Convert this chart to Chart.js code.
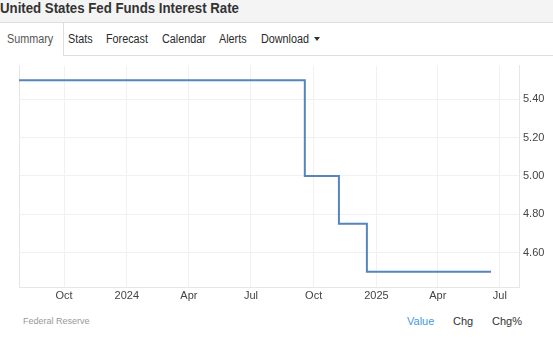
<!DOCTYPE html>
<html>
<head>
<meta charset="utf-8">
<script src="https://cdn.jsdelivr.net/npm/chart.js@4/dist/chart.umd.min.js"></script>
<style>
  html, body { margin: 0; padding: 0; background: #fff; }
  body { width: 553px; height: 343px; position: relative; overflow: hidden;
         font-family: "Liberation Sans", Arial, Helvetica, sans-serif; }
  .topband { position: absolute; left: 0; top: 0; width: 553px; height: 22px; background: #f4f4f4; }
  .title { position: absolute; left: 0; top: 1px; font-size: 14px; line-height: 14px; font-weight: bold;
           color: #333; white-space: nowrap; transform: scaleX(0.945); transform-origin: left top; }
  .tabbar { position: absolute; left: 0; top: 22px; width: 553px; height: 33px; background: #fff;
            border-top: 1px solid #dedede; box-sizing: border-box; }
  .tabline { position: absolute; left: 63px; top: 55px; width: 490px; height: 1px; background: #dedede; }
  .tabedge { position: absolute; left: 63px; top: 22px; width: 1px; height: 34px; background: #dedede; }
  .tab { position: absolute; top: 33px; font-size: 12px; line-height: 12px; color: #2a2a2a; white-space: nowrap;
         transform: scaleX(0.9); transform-origin: left top; }
  .tab.active { color: #555; }
  .caret { position: absolute; left: 314px; top: 37px; width: 0; height: 0;
           border-left: 3.5px solid transparent; border-right: 3.5px solid transparent; border-top: 4px solid #333; }
  #wrap { position: absolute; left: 0; top: 55px; width: 553px; height: 250px; }
  .src { position: absolute; left: 23px; top: 317px; font-size: 9px; line-height: 9px; color: #999; white-space: nowrap; }
  .opt { position: absolute; top: 316px; font-size: 11px; line-height: 11px; color: #333; white-space: nowrap; }
  .opt.on { color: #3f9ae0; }
</style>
</head>
<body>
<div class="topband"></div>
<div class="title">United States Fed Funds Interest Rate</div>
<div class="tabbar"></div>
<div class="tabline"></div>
<div class="tabedge"></div>
<div class="tab active" style="left:7px">Summary</div>
<div class="tab" style="left:68px">Stats</div>
<div class="tab" style="left:106px">Forecast</div>
<div class="tab" style="left:162px">Calendar</div>
<div class="tab" style="left:219px">Alerts</div>
<div class="tab" style="left:261px">Download</div>
<div class="caret"></div>

<div id="wrap"><canvas id="c" width="553" height="250"></canvas></div>

<div class="src">Federal Reserve</div>
<div class="opt on" style="left:407px">Value</div>
<div class="opt" style="left:453px">Chg</div>
<div class="opt" style="left:492px">Chg%</div>

<script>
// Fed funds target (upper bound), one point per FOMC decision date
const decisionDates = ['2023-07-27','2023-09-20','2023-11-01','2023-12-13','2024-01-31','2024-03-20',
                       '2024-05-01','2024-06-12','2024-07-31','2024-09-18','2024-11-07','2024-12-18',
                       '2025-01-29','2025-03-19','2025-05-07','2025-06-18'];
const rates = [5.50, 5.50, 5.50, 5.50, 5.50, 5.50,
               5.50, 5.50, 5.50, 5.00, 4.75, 4.50,
               4.50, 4.50, 4.50, 4.50];

// Axis range and tick marks
const rangeStart = '2023-07-27';
const rangeEnd = '2025-07-29';
const xTickDates = ['2023-10-01','2024-01-01','2024-04-01','2024-07-01','2024-10-01','2025-01-01','2025-04-01','2025-07-01'];
const xTickLabels = ['Oct','2024','Apr','Jul','Oct','2025','Apr','Jul'];
const yTicks = [4.60, 4.80, 5.00, 5.20, 5.40];
const yMin = 4.42, yMax = 5.576;

const dayOf = s => Date.parse(s + 'T00:00:00Z') / 86400000;

const points = decisionDates.map((d, i) => ({ x: dayOf(d), y: rates[i] }));

// thin frame line on the left edge of the plot area
const frameLeft = {
  id: 'frameLeft',
  beforeDatasetsDraw(chart) {
    const { ctx, chartArea: a } = chart;
    ctx.save();
    ctx.strokeStyle = '#e6e6e6';
    ctx.lineWidth = 1;
    ctx.beginPath();
    ctx.moveTo(Math.round(a.left) + 0.5, a.top);
    ctx.lineTo(Math.round(a.left) + 0.5, a.bottom);
    ctx.stroke();
    ctx.restore();
  }
};

const tickFont = { family: '"Liberation Sans", Arial, sans-serif', size: 11 };

new Chart(document.getElementById('c'), {
  type: 'line',
  data: {
    datasets: [{
      data: points,
      stepped: 'before',
      borderColor: '#5585bd',
      borderWidth: 2,
      pointRadius: 0,
      fill: false
    }]
  },
  options: {
    responsive: false,
    animation: false,
    devicePixelRatio: 1,
    layout: { padding: { left: 19, top: 8, right: 0, bottom: 0 } },
    plugins: { legend: { display: false }, tooltip: { enabled: false } },
    scales: {
      x: {
        type: 'linear',
        min: dayOf(rangeStart),
        max: dayOf(rangeEnd),
        afterBuildTicks: s => { s.ticks = xTickDates.map(d => ({ value: dayOf(d) })); },
        afterFit: s => { s.height = 18; },
        ticks: {
          autoSkip: false, maxRotation: 0, padding: 2, color: '#444', font: tickFont,
          callback: (v, i) => xTickLabels[i]
        },
        grid: { color: '#f1f1f1', drawTicks: false },
        border: { display: true, color: '#e6e6e6' }
      },
      y: {
        position: 'right',
        min: yMin,
        max: yMax,
        afterBuildTicks: s => { s.ticks = yTicks.map(v => ({ value: v })); },
        afterFit: s => { s.width = 34; },
        ticks: {
          padding: 4, color: '#444', font: tickFont,
          callback: v => Number(v).toFixed(2)
        },
        grid: { color: '#f1f1f1', drawTicks: false },
        border: { display: true, color: '#e6e6e6' }
      }
    }
  },
  plugins: [frameLeft]
});
</script>
</body>
</html>
